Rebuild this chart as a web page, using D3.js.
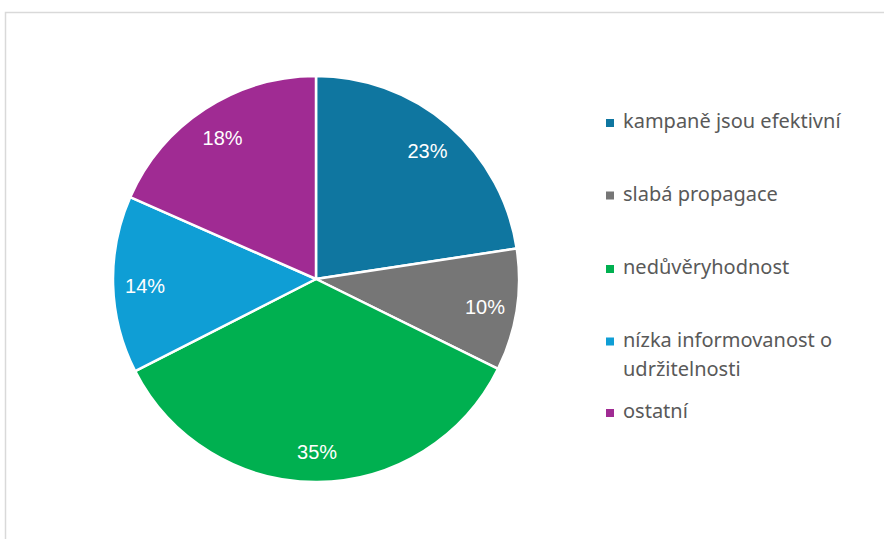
<!DOCTYPE html>
<html>
<head>
<meta charset="utf-8">
<script src="https://cdn.jsdelivr.net/npm/d3@7"></script>
<style>
  body { margin: 0; background: #fff; }
  svg { display: block; }
</style>
</head>
<body>
<div id="chart"></div>
<script>
// slice data, clockwise from 12 o'clock
let categories = ['kampaně jsou efektivní', 'slabá propagace', 'nedůvěryhodnost', 'nízka informovanost o udržitelnosti', 'ostatní'];
let legendLines = [['kampaně jsou efektivní'], ['slabá propagace'], ['nedůvěryhodnost'], ['nízka informovanost o', 'udržitelnosti'], ['ostatní']];
let values = [22.6, 9.7, 35.2, 14.1, 18.4];
let colors = ['#0f76a0', '#767676', '#00b050', '#0f9ed5', '#a02b93'];

let totalWidth = 884;
let totalHeight = 539;
let cx = 316, cy = 279, radius = 203;

let svg = d3.select("#chart").append("svg")
    .attr("width", totalWidth)
    .attr("height", totalHeight);

// chart frame
svg.append("rect")
    .attr("x", 5.5)
    .attr("y", 12.5)
    .attr("width", totalWidth + 10)
    .attr("height", totalHeight)
    .attr("fill", "none")
    .attr("stroke", "#d9d9d9")
    .attr("stroke-width", 1.5);

let data = categories.map((c, i) => ({ name: c, value: values[i], color: colors[i] }));

let pie = d3.pie()
    .value(d => d.value)
    .sort(null);

let arc = d3.arc().innerRadius(0).outerRadius(radius);
let labelArc = d3.arc().innerRadius(171).outerRadius(171);

let g = svg.append("g")
    .attr("transform", "translate(" + cx + "," + cy + ")");

let arcs = pie(data);

g.selectAll("path")
    .data(arcs)
    .enter().append("path")
    .attr("d", arc)
    .attr("fill", d => d.data.color)
    .attr("stroke", "#fff")
    .attr("stroke-width", 2.5)
    .attr("stroke-linejoin", "round");

// percent labels
g.selectAll("text.pct")
    .data(arcs)
    .enter().append("text")
    .attr("class", "pct")
    .attr("transform", d => "translate(" + labelArc.centroid(d) + ")")
    .attr("text-anchor", "middle")
    .attr("dy", "0.45em")
    .style("fill", "#fff")
    .style("font-family", "'Liberation Sans', Arial, sans-serif")
    .style("font-size", "20px")
    .text(d => Math.round(d.data.value) + "%");

// legend
let legendY = [128, 200.5, 274, 346.5, 418];
let legend = svg.append("g");
data.forEach((d, i) => {
    legend.append("rect")
        .attr("x", 606)
        .attr("y", legendY[i] - 9)
        .attr("width", 8)
        .attr("height", 8)
        .attr("fill", d.color);
    let t = legend.append("text")
        .attr("x", 623)
        .attr("y", legendY[i])
        .style("fill", "#595959")
        .style("font-family", "'Noto Sans', sans-serif")
        .style("font-size", "20px");
    legendLines[i].forEach((line, j) => {
        t.append("tspan")
            .attr("x", 623)
            .attr("y", legendY[i] + j * 29.5)
            .text(line);
    });
});
</script>
</body>
</html>
